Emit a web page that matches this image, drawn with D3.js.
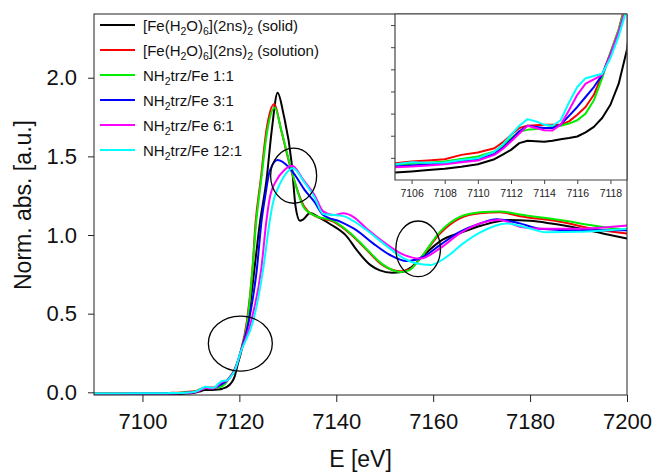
<!DOCTYPE html>
<html>
<head>
<meta charset="utf-8">
<script src="https://cdn.jsdelivr.net/npm/d3@7/dist/d3.min.js"></script>
<style>
  html, body { margin: 0; padding: 0; background: #fff; }
  svg { display: block; font-family: Arial, "Liberation Sans", sans-serif; }
</style>
</head>
<body>
<svg id="chart" width="655" height="473"></svg>
<script>
// ---------------- DATA ----------------
const xTicks = [7100, 7120, 7140, 7160, 7180, 7200];
const yTicks = [0.0, 0.5, 1.0, 1.5, 2.0];
const insetXTicks = [7106, 7108, 7110, 7112, 7114, 7116, 7118];
const insetYTicks = [0.00, 0.02, 0.04, 0.06, 0.08, 0.10, 0.12];

const seriesNames = ["solid", "solution", "1:1", "3:1", "6:1", "12:1"];

// [E (eV), normalized absorption]
const solid = [
  [7090,-0.016],[7095,-0.015],[7100,-0.014],[7105,-0.0133],[7106,-0.0123],[7107,-0.011],[7108,-0.0099],
  [7109,-0.008],[7110,-0.0057],[7111,-0.0012],[7111.5,0.003],[7112,0.0072],[7112.5,0.0133],[7113,0.0154],
  [7113.5,0.015],[7114,0.0145],[7114.5,0.0155],[7115,0.0169],[7115.5,0.018],[7116,0.0193],[7116.5,0.023],
  [7117,0.028],[7117.5,0.036],[7118,0.048],[7118.5,0.067],[7119,0.098],[7119.6,0.17],[7120.3,0.25],
  [7121.8,0.46],[7123.1,0.78],[7124.2,1.07],[7125.6,1.35],[7126.7,1.67],[7127.9,1.905],[7129.1,1.77],
  [7130.8,1.456],[7131.6,1.18],[7132.5,1.09],[7133.2,1.10],[7134.6,1.14],[7136.5,1.11],[7138.7,1.07],
  [7142.2,0.99],[7144.2,0.905],[7147,0.81],[7149,0.775],[7151.5,0.76],[7153.5,0.765],[7155.2,0.79],
  [7158,0.87],[7161.4,0.96],[7166.2,1.02],[7170,1.06],[7175.5,1.095],[7180,1.09],[7184,1.075],
  [7190.5,1.04],[7195,1.01],[7200,0.978]
];
const solution = [
  [7090,-0.007],[7100,-0.006],[7105,-0.0048],[7106,-0.0033],[7107,-0.0024],[7108,-0.0012],[7109,0.0027],
  [7110,0.0048],[7111,0.0087],[7111.5,0.014],[7112,0.0208],[7112.5,0.027],[7113,0.029],[7114,0.030],
  [7115,0.030],[7115.5,0.033],[7116,0.039],[7116.5,0.046],[7117,0.057],[7117.5,0.075],[7118,0.095],
  [7118.5,0.116],[7119,0.145],[7120.2,0.25],[7121.6,0.46],[7122.7,0.78],[7123.3,1.06],[7124.4,1.35],
  [7125.6,1.67],[7127.2,1.833],[7128.6,1.67],[7130.5,1.434],[7133.4,1.18],[7135.7,1.12],[7139.4,1.085],
  [7142.8,1.01],[7146.3,0.905],[7149.5,0.81],[7153.2,0.77],[7155,0.78],[7157.3,0.85],[7161.4,1.01],
  [7165.5,1.106],[7169.7,1.138],[7173.8,1.144],[7177.9,1.12],[7186.2,1.085],[7193,1.04],[7200,1.01]
];
const ratio1 = [
  [7090,-0.008],[7100,-0.007],[7105,-0.0063],[7106,-0.0054],[7107,-0.0045],[7108,-0.0033],[7109,-0.001],
  [7110,0.0012],[7111,0.0057],[7111.5,0.011],[7112,0.0178],[7112.5,0.0238],[7113,0.0253],[7114,0.0268],
  [7115,0.029],[7115.5,0.031],[7116,0.034],[7116.5,0.040],[7117,0.052],[7117.5,0.072],[7118,0.095],
  [7118.5,0.116],[7119,0.142],[7120.2,0.25],[7121.7,0.46],[7122.7,0.78],[7123.4,1.06],[7124.5,1.35],
  [7125.7,1.65],[7127.3,1.81],[7128.7,1.66],[7130.6,1.43],[7133.4,1.17],[7135.8,1.12],[7139.4,1.09],
  [7142.8,1.015],[7146.3,0.91],[7149.5,0.815],[7153.3,0.765],[7155,0.775],[7157.3,0.85],[7161.4,1.02],
  [7165.5,1.115],[7169.7,1.145],[7173.8,1.15],[7177.9,1.13],[7186.2,1.095],[7193,1.06],[7200,1.03]
];
const ratio3 = [
  [7090,-0.009],[7100,-0.008],[7105,-0.0078],[7106,-0.0069],[7107,-0.006],[7108,-0.0048],[7109,-0.003],
  [7110,-0.0012],[7111,0.0036],[7111.5,0.009],[7112,0.0163],[7112.5,0.024],[7113,0.029],[7113.5,0.028],
  [7114,0.027],[7114.5,0.027],[7115,0.030],[7115.5,0.038],[7116,0.046],[7116.5,0.055],[7117,0.064],
  [7117.5,0.075],[7118,0.093],[7118.5,0.113],[7119,0.138],[7120.2,0.25],[7122,0.46],[7123.6,0.78],
  [7124.6,1.095],[7125.3,1.24],[7126.3,1.41],[7127.9,1.477],[7130.1,1.434],[7131.5,1.38],[7133.5,1.285],
  [7135.5,1.21],[7137.3,1.127],[7140.8,1.085],[7144.2,1.03],[7147.6,0.947],[7151.1,0.873],[7154.5,0.835],
  [7158,0.862],[7161.4,0.936],[7165.5,1.02],[7169.7,1.074],[7173.1,1.10],[7177.9,1.074],[7182,1.04],
  [7190.3,1.03],[7200,1.03]
];
const ratio6 = [
  [7090,-0.010],[7100,-0.009],[7105,-0.0084],[7106,-0.0078],[7107,-0.0068],[7108,-0.0057],[7109,-0.004],
  [7110,-0.0024],[7111,0.0027],[7111.5,0.008],[7112,0.0148],[7112.5,0.022],[7113,0.029],[7113.5,0.027],
  [7114,0.025],[7114.5,0.0247],[7115,0.030],[7115.5,0.043],[7116,0.057],[7116.5,0.067],[7117,0.071],
  [7117.5,0.075],[7118,0.093],[7118.5,0.114],[7119,0.138],[7120.2,0.25],[7122.5,0.46],[7124.5,0.78],
  [7125.6,1.095],[7126.3,1.24],[7127.7,1.35],[7129.2,1.41],[7130.9,1.44],[7133.2,1.35],[7135.5,1.255],
  [7137.3,1.15],[7139.4,1.127],[7141.5,1.138],[7143.5,1.116],[7146.3,1.04],[7149.7,0.957],[7153.5,0.88],
  [7157.3,0.85],[7161.4,0.915],[7165.5,1.01],[7169.7,1.074],[7173.8,1.095],[7177.9,1.053],[7182,1.04],
  [7190,1.04],[7200,1.06]
];
const ratio12 = [
  [7090,-0.007],[7100,-0.0065],[7105,-0.0057],[7106,-0.0039],[7107,-0.0045],[7108,-0.0042],[7109,-0.002],
  [7110,-0.0003],[7111,0.0057],[7111.5,0.012],[7112,0.0208],[7112.5,0.029],[7113,0.035],[7113.5,0.033],
  [7114,0.030],[7114.5,0.029],[7115,0.034],[7115.5,0.050],[7116,0.064],[7116.5,0.072],[7117,0.074],
  [7117.5,0.076],[7118,0.090],[7118.5,0.110],[7119,0.135],[7120.2,0.25],[7122.9,0.46],[7124.9,0.78],
  [7126.3,1.095],[7126.9,1.20],[7128.3,1.32],[7129.6,1.39],[7131.1,1.424],[7133.3,1.34],[7135.5,1.24],
  [7137.3,1.133],[7141.5,1.12],[7143.5,1.09],[7146.3,1.03],[7149.7,0.947],[7153.5,0.86],[7156.5,0.82],
  [7159.4,0.81],[7162.8,0.862],[7166.2,0.947],[7169.7,1.017],[7175.2,1.074],[7179,1.05],[7183.4,1.017],
  [7190,1.02],[7200,1.04]
];

// highlighted regions (centre E, centre value, half-width in eV, half-height in a.u.)
const circleE  = [7120.2, 7131.2, 7156.9];
const circleV  = [0.31, 1.377, 0.912];
const circleRE = [6.6, 4.75, 4.6];
const circleRV = [0.175, 0.175, 0.177];

// ---------------- DRAWING ----------------
const allData = [solid, solution, ratio1, ratio3, ratio6, ratio12];
const colors = ["#000000", "#ff0000", "#00ee00", "#0000ff", "#ff00ff", "#00ffff"];

const svg = d3.select("#chart");
const W = 655, H = 473;
const M = {left: 94, top: 14, right: 627, bottom: 395};

const x = d3.scaleLinear().domain([7090, 7200]).range([M.left, M.right]);
const y = d3.scaleLinear().domain([-0.017, 2.405]).range([M.bottom, M.top]);

const defs = svg.append("defs");
defs.append("clipPath").attr("id", "clipMain").append("rect")
  .attr("x", M.left).attr("y", M.top).attr("width", M.right - M.left).attr("height", M.bottom - M.top);

// main curves
const lineMain = d3.line().x(d => x(d[0])).y(d => y(d[1])).curve(d3.curveMonotoneX);
const gMain = svg.append("g").attr("clip-path", "url(#clipMain)");
allData.forEach((s, i) => {
  gMain.append("path").datum(s).attr("d", lineMain)
    .attr("fill", "none").attr("stroke", colors[i]).attr("stroke-width", 2)
    .attr("stroke-linejoin", "round");
});

// ellipses
circleE.forEach((e, i) => {
  svg.append("ellipse")
    .attr("cx", x(e)).attr("cy", y(circleV[i]))
    .attr("rx", x(e + circleRE[i]) - x(e))
    .attr("ry", y(circleV[i] - circleRV[i]) - y(circleV[i]))
    .attr("fill", "none").attr("stroke", "#000").attr("stroke-width", 1.3);
});

// main frame
svg.append("rect").attr("x", M.left).attr("y", M.top)
  .attr("width", M.right - M.left).attr("height", M.bottom - M.top)
  .attr("fill", "none").attr("stroke", "#222").attr("stroke-width", 1);

// x axis
const gx = svg.append("g").attr("transform", `translate(0,${M.bottom})`)
  .call(d3.axisBottom(x).tickValues(xTicks).tickSize(7).tickSizeOuter(0).tickPadding(11).tickFormat(d3.format("d")));
gx.select(".domain").remove();
gx.selectAll("line").attr("stroke", "#222");
gx.selectAll("text").attr("font-size", 22).attr("fill", "#111").attr("font-family", "Arial, 'Liberation Sans', sans-serif");

// y axis
const gy = svg.append("g").attr("transform", `translate(${M.left},0)`)
  .call(d3.axisLeft(y).tickValues(yTicks).tickSize(6).tickSizeOuter(0).tickPadding(11).tickFormat(d3.format(".1f")));
gy.select(".domain").remove();
gy.selectAll("line").attr("stroke", "#222");
gy.selectAll("text").attr("font-size", 22).attr("fill", "#111").attr("font-family", "Arial, 'Liberation Sans', sans-serif");

// axis titles
svg.append("text").attr("x", (M.left + M.right) / 2).attr("y", 467)
  .attr("text-anchor", "middle").attr("font-size", 23).attr("fill", "#111").text("E [eV]");
svg.append("text").attr("transform", "translate(31,205) rotate(-90)")
  .attr("text-anchor", "middle").attr("font-size", 23).attr("fill", "#111").text("Norm. abs. [a.u.]");

// ---------------- INSET ----------------
const I = {left: 395, top: 14, right: 627, bottom: 180};
const xi = d3.scaleLinear().domain([7105, 7119]).range([I.left, I.right]);
const yi = d3.scaleLinear().domain([-0.02, 0.13]).range([I.bottom, I.top]);

svg.append("rect").attr("x", I.left).attr("y", I.top)
  .attr("width", I.right - I.left).attr("height", I.bottom - I.top).attr("fill", "#fff");

defs.append("clipPath").attr("id", "clipInset").append("rect")
  .attr("x", I.left).attr("y", I.top).attr("width", I.right - I.left).attr("height", I.bottom - I.top);

const lineInset = d3.line().x(d => xi(d[0])).y(d => yi(d[1])).curve(d3.curveLinear);
const gIn = svg.append("g").attr("clip-path", "url(#clipInset)");
allData.forEach((s, i) => {
  gIn.append("path").datum(s.filter(d => d[0] >= 7104 && d[0] <= 7121)).attr("d", lineInset)
    .attr("fill", "none").attr("stroke", colors[i]).attr("stroke-width", 2)
    .attr("stroke-linejoin", "round");
});

// inset frame
svg.append("path")
  .attr("d", `M${I.right},${I.top}H${I.left}V${I.bottom}H${I.right}V${I.top}`)
  .attr("fill", "none").attr("stroke", "#444").attr("stroke-width", 1.2);

const gxi = svg.append("g").attr("transform", `translate(0,${I.bottom})`)
  .call(d3.axisBottom(xi).tickValues(insetXTicks).tickSize(4).tickSizeOuter(0).tickPadding(6).tickFormat(d3.format("d")));
gxi.select(".domain").remove();
gxi.selectAll("line").attr("stroke", "#444");
gxi.selectAll("text").attr("font-size", 10.5).attr("fill", "#222").attr("font-family", "Arial, 'Liberation Sans', sans-serif");

const gyi = svg.append("g").attr("transform", `translate(${I.left},0)`)
  .call(d3.axisLeft(yi).tickValues(insetYTicks).tickSize(4).tickSizeOuter(0).tickFormat(""));
gyi.select(".domain").remove();
gyi.selectAll("line").attr("stroke", "#444");

// ---------------- LEGEND ----------------
const legendLabels = [
  [["[Fe(H",0],["2",1],["O)",0],["6",1],["](2ns)",0],["2",1],[" (solid)",0]],
  [["[Fe(H",0],["2",1],["O)",0],["6",1],["](2ns)",0],["2",1],[" (solution)",0]],
  [["NH",0],["2",1],["trz/Fe 1:1",0]],
  [["NH",0],["2",1],["trz/Fe 3:1",0]],
  [["NH",0],["2",1],["trz/Fe 6:1",0]],
  [["NH",0],["2",1],["trz/Fe 12:1",0]]
];
const gL = svg.append("g");
legendLabels.forEach((parts, i) => {
  const ly = 25 + i * 25;
  gL.append("line").attr("x1", 100).attr("x2", 135).attr("y1", ly).attr("y2", ly)
    .attr("stroke", colors[i]).attr("stroke-width", 2);
  const t = gL.append("text").attr("x", 143).attr("y", ly + 5.5).attr("font-size", 15).attr("fill", "#111");
  let prevSub = 0;
  parts.forEach(([txt, sub]) => {
    const ts = t.append("tspan").text(txt);
    if (sub && !prevSub) ts.attr("dy", 4).attr("font-size", 10.5);
    else if (!sub && prevSub) ts.attr("dy", -4);
    else if (sub) ts.attr("font-size", 10.5);
    prevSub = sub;
  });
});
</script>
</body>
</html>
